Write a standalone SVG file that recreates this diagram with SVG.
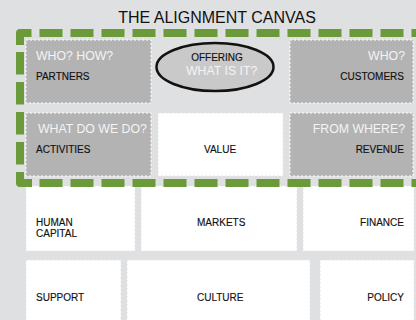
<svg xmlns="http://www.w3.org/2000/svg" width="416" height="320" viewBox="0 0 416 320">
<style>
.gray{fill:#b3b3b3;stroke:#ffffff;stroke-width:1;stroke-dasharray:2 2}
.white{fill:#ffffff;stroke:#e4e5e7;stroke-width:1;stroke-dasharray:2 2}
.lbl{font-family:"Liberation Sans",Arial,sans-serif;font-size:10px;fill:#111;stroke:#111;stroke-width:0.15}
.q{font-family:"Liberation Sans",Arial,sans-serif;font-size:12.3px;fill:#f4f4f4}
.end{text-anchor:end}
.mid{text-anchor:middle}
.frame{fill:none;stroke:#6b9a3b;stroke-width:8}
</style>
<rect x="0" y="0" width="416" height="320" fill="#dfe0e2"/>
<text x="217" y="23" class="mid" font-family="'Liberation Sans',Arial,sans-serif" font-size="16" fill="#111">THE ALIGNMENT CANVAS</text>

<g id="partners">
<rect class="gray" x="26" y="40" width="125" height="63"/>
<text class="q" x="36" y="60">WHO? HOW?</text>
<text class="lbl" x="36" y="80">PARTNERS</text>
</g>
<g id="offering">
<ellipse cx="215" cy="67" rx="58.5" ry="24" fill="#c9c9c9" stroke="#111" stroke-width="2.5"/>
<text class="lbl mid" x="217" y="61">OFFERING</text>
<text class="q" x="186" y="75" font-size="12.5">WHAT IS IT?</text>
</g>
<g id="customers">
<rect class="gray" x="290" y="40" width="123" height="63"/>
<text class="q end" x="405" y="60">WHO?</text>
<text class="lbl end" x="404" y="80">CUSTOMERS</text>
</g>
<g id="activities">
<rect class="gray" x="26" y="113" width="125" height="63"/>
<text class="q" x="38" y="133">WHAT DO WE DO?</text>
<text class="lbl" x="36" y="153">ACTIVITIES</text>
</g>
<g id="value">
<rect class="white" x="158" y="113" width="125" height="63"/>
<text class="lbl" x="204" y="153">VALUE</text>
</g>
<g id="revenue">
<rect class="gray" x="290" y="113" width="123" height="63"/>
<text class="q end" x="405" y="133">FROM WHERE?</text>
<text class="lbl end" x="404" y="153">REVENUE</text>
</g>
<g id="human-capital">
<rect class="white" x="26" y="186" width="109" height="65"/>
<text class="lbl" x="36" y="226">HUMAN</text>
<text class="lbl" x="36" y="237">CAPITAL</text>
</g>
<g id="markets">
<rect class="white" x="141" y="186" width="156" height="65"/>
<text class="lbl" x="197" y="226">MARKETS</text>
</g>
<g id="finance">
<rect class="white" x="303" y="186" width="111" height="65"/>
<text class="lbl end" x="404" y="226">FINANCE</text>
</g>
<g id="support">
<rect class="white" x="26" y="260" width="95" height="64"/>
<text class="lbl" x="36" y="301">SUPPORT</text>
</g>
<g id="culture">
<rect class="white" x="127" y="260" width="183" height="64"/>
<text class="lbl" x="197" y="301">CULTURE</text>
</g>
<g id="policy">
<rect class="white" x="320" y="260" width="94" height="64"/>
<text class="lbl end" x="404" y="301">POLICY</text>
</g>

<g id="frame">
<path class="frame" d="M20,45 V33 H31.5" stroke-linejoin="round"/>
<path class="frame" d="M20,172 V183 H32" stroke-linejoin="round"/>
<path class="frame" d="M39.5,33 H430" stroke-dasharray="23 8"/>
<path class="frame" d="M39.5,183 H430" stroke-dasharray="23 8"/>
<path class="frame" d="M20,52 V166" stroke-dasharray="22.5 7.5"/>
</g>
</svg>
